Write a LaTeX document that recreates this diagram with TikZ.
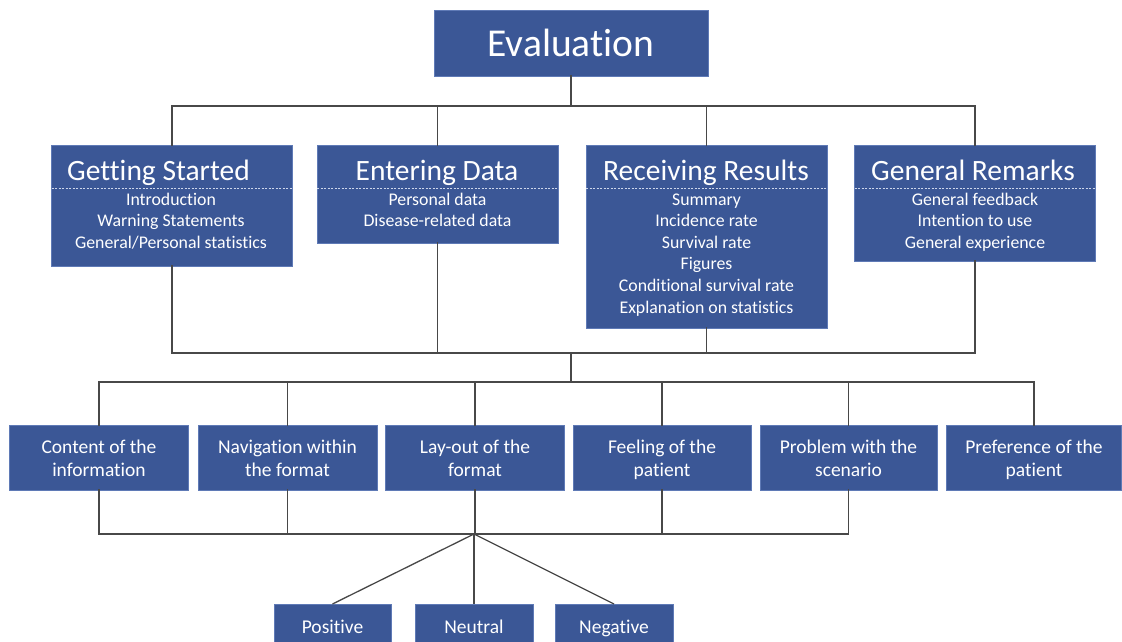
\documentclass[tikz,border=0pt]{standalone}
\usepackage{fontspec}
\setmainfont{Carlito}[Ligatures=NoCommon]
\definecolor{boxblue}{RGB}{59,87,150}
\definecolor{boxedge}{RGB}{95,122,182}
\definecolor{linegray}{RGB}{72,72,72}
\definecolor{dashcol}{RGB}{205,214,235}
\begin{document}
\begin{tikzpicture}[x=1pt,y=-1pt,
  box/.style={fill=boxblue,draw=boxedge,line width=0.6pt,inner sep=0pt,outer sep=0pt},
  conn/.style={draw=linegray,line width=1.3pt,line cap=rect},
  spoke/.style={draw=linegray,line width=1.3pt},
  dashline/.style={draw=dashcol,line width=0.8pt,dash pattern=on 2pt off 1.5pt},
  titletext/.style={text=white,anchor=base,inner sep=0pt,font=\fontsize{29.5}{33}\selectfont},
  itemtext/.style={text=white,anchor=base,inner sep=0pt,font=\fontsize{17.8}{21}\selectfont},
  cattext/.style={text=white,anchor=base,inner sep=0pt,font=\fontsize{19.5}{23}\selectfont}]
\useasboundingbox (0,0) rectangle (1122,641);
\clip (0,0) rectangle (1122,641);

% root
\node[box,minimum width=274pt,minimum height=66pt] (eval) at (571,43) {};
\node[text=white,anchor=base,inner sep=0pt,font=\fontsize{39.5}{45}\selectfont] (evalt) at (571,56.5) {Evaluation};

% top boxes
\node[box,anchor=north,minimum width=241pt,minimum height=121pt] (gs) at (172,145) {};
\node[box,anchor=north,minimum width=241pt,minimum height=98pt] (ed) at (437.5,145) {};
\node[box,anchor=north,minimum width=241pt,minimum height=183pt] (rr) at (706.5,145) {};
\node[box,anchor=north,minimum width=241pt,minimum height=116pt] (gr) at (975,145) {};

\node[titletext] (gst) at (158.5,180) {Getting Started};
\node[titletext] (edt) at (437,180) {Entering Data};
\node[titletext] (rrt) at (706,180) {Receiving Results};
\node[titletext] (grt) at (973,180) {General Remarks};

\foreach \b in {gs,ed,rr,gr}
  \draw[dashline] (\b.west |- 0,188) -- (\b.east |- 0,188);

\foreach [count=\i] \t in {Introduction,Warning Statements,General/Personal statistics}
  \node[itemtext] (gs-\i) at ({171},{205+21.6*(\i-1)}) {\t};
\foreach [count=\i] \t in {Personal data,Disease-related data}
  \node[itemtext] (ed-\i) at ({437.5},{205+21.6*(\i-1)}) {\t};
\foreach [count=\i] \t in {Summary,Incidence rate,Survival rate,Figures,Conditional survival rate,Explanation on statistics}
  \node[itemtext] (rr-\i) at ({706.5},{205+21.6*(\i-1)}) {\t};
\foreach [count=\i] \t in {General feedback,Intention to use,General experience}
  \node[itemtext] (gr-\i) at ({975},{205+21.6*(\i-1)}) {\t};

% category boxes
\foreach \n/\x/\w/\a/\b in {c1/99/179/Content of the/information,
                            c2/287.5/179/Navigation within/the format,
                            c3/475/179/Lay-out of the/format,
                            c4/662/178/Feeling of the/patient,
                            c5/848.5/177/Problem with the/scenario,
                            c6/1034/175/Preference of the/patient}{
  \node[box,minimum width=\w pt,minimum height=65pt] (\n) at (\x,457.5) {};
  \node[cattext] (\n-a) at (\x,453.5) {\a};
  \node[cattext] (\n-b) at (\x,476.5) {\b};
}

% valence boxes
\node[box,anchor=north,minimum width=117pt,minimum height=56pt] (pos) at (332.5,604) {};
\node[box,anchor=north,minimum width=118pt,minimum height=56pt] (neu) at (474,604) {};
\node[box,anchor=north,minimum width=118pt,minimum height=56pt] (neg) at (614,604) {};
\node[cattext] (post) at (332.5,633) {Positive};
\node[cattext] (neut) at (474,633) {Neutral};
\node[cattext] (negt) at (614,633) {Negative};

% connectors
\coordinate (top) at (571,106);
\coordinate (mid) at (571,353);
\coordinate (low) at (571,382);
\coordinate (base) at (474,534);

\draw[conn] (eval.south) -- (top);
\draw[conn] (gs.north) -- (gs.north |- top) -- (gr.north |- top) -- (gr.north);
\draw[conn] (ed.north) -- (ed.north |- top);
\draw[conn] (rr.north) -- (rr.north |- top);

\draw[conn] (gs.south) -- (gs.south |- mid) -- (gr.south |- mid) -- (gr.south);
\draw[conn] (ed.south) -- (ed.south |- mid);
\draw[conn] (rr.south) -- (rr.south |- mid);
\draw[conn] (mid) -- (low);

\draw[conn] (c1.north) -- (c1.north |- low) -- (c6.north |- low) -- (c6.north);
\foreach \n in {c2,c3,c4,c5}
  \draw[conn] (\n.north) -- (\n.north |- low);

\draw[conn] (c1.south) -- (c1.south |- base) -- (c5.south |- base) -- (c5.south);
\foreach \n in {c2,c3,c4}
  \draw[conn] (\n.south) -- (\n.south |- base);

\draw[spoke] (base) -- (pos.north);
\draw[spoke] (base) -- (neu.north);
\draw[spoke] (base) -- (neg.north);
\end{tikzpicture}
\end{document}
